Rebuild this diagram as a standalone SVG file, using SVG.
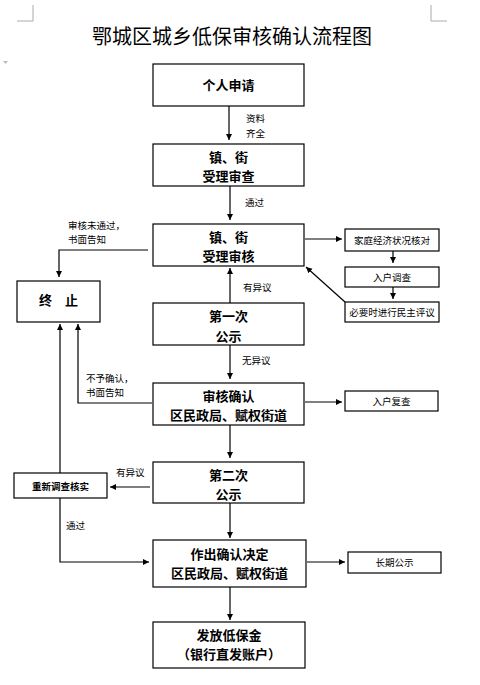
<svg xmlns="http://www.w3.org/2000/svg" width="480" height="685" viewBox="0 0 480 685">
<style>
.box{fill:#fff;stroke:#000;stroke-width:1.2}
.nt{font-family:"Noto Sans CJK SC","Liberation Sans",sans-serif;font-size:13px;font-weight:bold;fill:#000;text-anchor:middle}
.st{font-family:"Noto Sans CJK SC","Liberation Sans",sans-serif;font-size:9.5px;fill:#000;text-anchor:middle}
.lb{font-family:"Noto Sans CJK SC","Liberation Sans",sans-serif;font-size:9.5px;fill:#000}
.ln{fill:none;stroke:#000;stroke-width:1.2}
.mk{fill:none;stroke:#aaa;stroke-width:1}
</style>
<defs>
<marker id="ar" markerUnits="userSpaceOnUse" markerWidth="7" markerHeight="7" refX="6" refY="3" orient="auto">
<path d="M0,0 L6,3 L0,6 z" fill="#000"/>
</marker>
</defs>
<rect width="480" height="685" fill="#fff"/>
<g id="marks">
<path class="mk" d="M33,5 V21 H17 M431,5 V21 H447"/>
<path d="M3,61 L8,61 L5.5,64 z" fill="#bbb"/>
</g>
<text x="232" y="44" style="font-family:'Noto Sans CJK SC',sans-serif;font-size:20px;fill:#000;text-anchor:middle">鄂城区城乡低保审核确认流程图</text>
<g id="connectors">
<line class="ln" x1="229" y1="106" x2="229" y2="140" marker-end="url(#ar)"/>
<line class="ln" x1="230" y1="186" x2="230" y2="220" marker-end="url(#ar)"/>
<polyline class="ln" points="148,250 59,250 59,277" marker-end="url(#ar)"/>
<line class="ln" x1="305" y1="239" x2="342" y2="239" marker-end="url(#ar)"/>
<line class="ln" x1="393" y1="251" x2="393" y2="263" marker-end="url(#ar)"/>
<line class="ln" x1="393" y1="287" x2="393" y2="299" marker-end="url(#ar)"/>
<line class="ln" x1="345" y1="302" x2="306" y2="267" marker-end="url(#ar)"/>
<line class="ln" x1="230" y1="303" x2="230" y2="268" marker-end="url(#ar)"/>
<line class="ln" x1="230" y1="345" x2="230" y2="379" marker-end="url(#ar)"/>
<polyline class="ln" points="152,403 78,403 78,324" marker-end="url(#ar)"/>
<line class="ln" x1="305" y1="402" x2="342" y2="402" marker-end="url(#ar)"/>
<line class="ln" x1="230" y1="425" x2="230" y2="458" marker-end="url(#ar)"/>
<line class="ln" x1="150" y1="487" x2="110" y2="487" marker-end="url(#ar)"/>
<line class="ln" x1="60" y1="473" x2="60" y2="324" marker-end="url(#ar)"/>
<polyline class="ln" points="60,498 60,562 149,562" marker-end="url(#ar)"/>
<line class="ln" x1="230" y1="503" x2="230" y2="538" marker-end="url(#ar)"/>
<line class="ln" x1="307" y1="562" x2="345" y2="562" marker-end="url(#ar)"/>
<line class="ln" x1="230" y1="587" x2="230" y2="620" marker-end="url(#ar)"/>
<text class="lb" x="246" y="122">资料</text>
<text class="lb" x="246" y="137">齐全</text>
<text class="lb" x="245" y="206">通过</text>
<text class="lb" x="68" y="229">审核未通过，</text>
<text class="lb" x="68" y="243">书面告知</text>
<text class="lb" x="243" y="291">有异议</text>
<text class="lb" x="242" y="364">无异议</text>
<text class="lb" x="86" y="382">不予确认，</text>
<text class="lb" x="86" y="396">书面告知</text>
<text class="lb" x="116" y="476">有异议</text>
<text class="lb" x="66" y="529">通过</text>
</g>
<g id="n1"><rect class="box" x="153" y="64" width="151" height="42"/><text class="nt" x="228.5" y="90">个人申请</text></g>
<g id="n2"><rect class="box" x="153" y="144" width="151" height="42"/><text class="nt" x="228.5" y="162">镇、街</text><text class="nt" x="228.5" y="181">受理审查</text></g>
<g id="n3"><rect class="box" x="153" y="224" width="151" height="42"/><text class="nt" x="228.5" y="242">镇、街</text><text class="nt" x="228.5" y="261">受理审核</text></g>
<g id="n3a"><rect class="box" x="345" y="229" width="94" height="22"/><text class="st" x="392" y="244">家庭经济状况核对</text></g>
<g id="n3b"><rect class="box" x="345" y="267" width="94" height="20"/><text class="st" x="392" y="281">入户调查</text></g>
<g id="n3c"><rect class="box" x="345" y="302" width="94" height="20"/><text class="st" x="392" y="316">必要时进行民主评议</text></g>
<g id="end"><rect class="box" x="17" y="281" width="83" height="41"/><text class="nt" x="58.5" y="305">终　止</text></g>
<g id="n4"><rect class="box" x="153" y="303" width="151" height="42"/><text class="nt" x="228.5" y="321">第一次</text><text class="nt" x="228.5" y="341">公示</text></g>
<g id="n5"><rect class="box" x="153" y="383" width="151" height="42"/><text class="nt" x="228.5" y="401">审核确认</text><text class="nt" x="228.5" y="420">区民政局、赋权街道</text></g>
<g id="n5a"><rect class="box" x="345" y="391" width="93" height="20"/><text class="st" x="391.5" y="405">入户复查</text></g>
<g id="n6"><rect class="box" x="153" y="462" width="151" height="41"/><text class="nt" x="228.5" y="480">第二次</text><text class="nt" x="228.5" y="499">公示</text></g>
<g id="redo"><rect class="box" x="14" y="473" width="93" height="25"/><text class="st" x="60.5" y="489.5" style="font-weight:bold">重新调查核实</text></g>
<g id="n7"><rect class="box" x="153" y="540" width="153" height="47"/><text class="nt" x="229.5" y="559">作出确认决定</text><text class="nt" x="229.5" y="578">区民政局、赋权街道</text></g>
<g id="n7a"><rect class="box" x="348" y="552" width="93" height="21"/><text class="st" x="394.5" y="566">长期公示</text></g>
<g id="n8"><rect class="box" x="153" y="622" width="152" height="46"/><text class="nt" x="229" y="640">发放低保金</text><text class="nt" x="229" y="659">（银行直发账户）</text></g>
</svg>
